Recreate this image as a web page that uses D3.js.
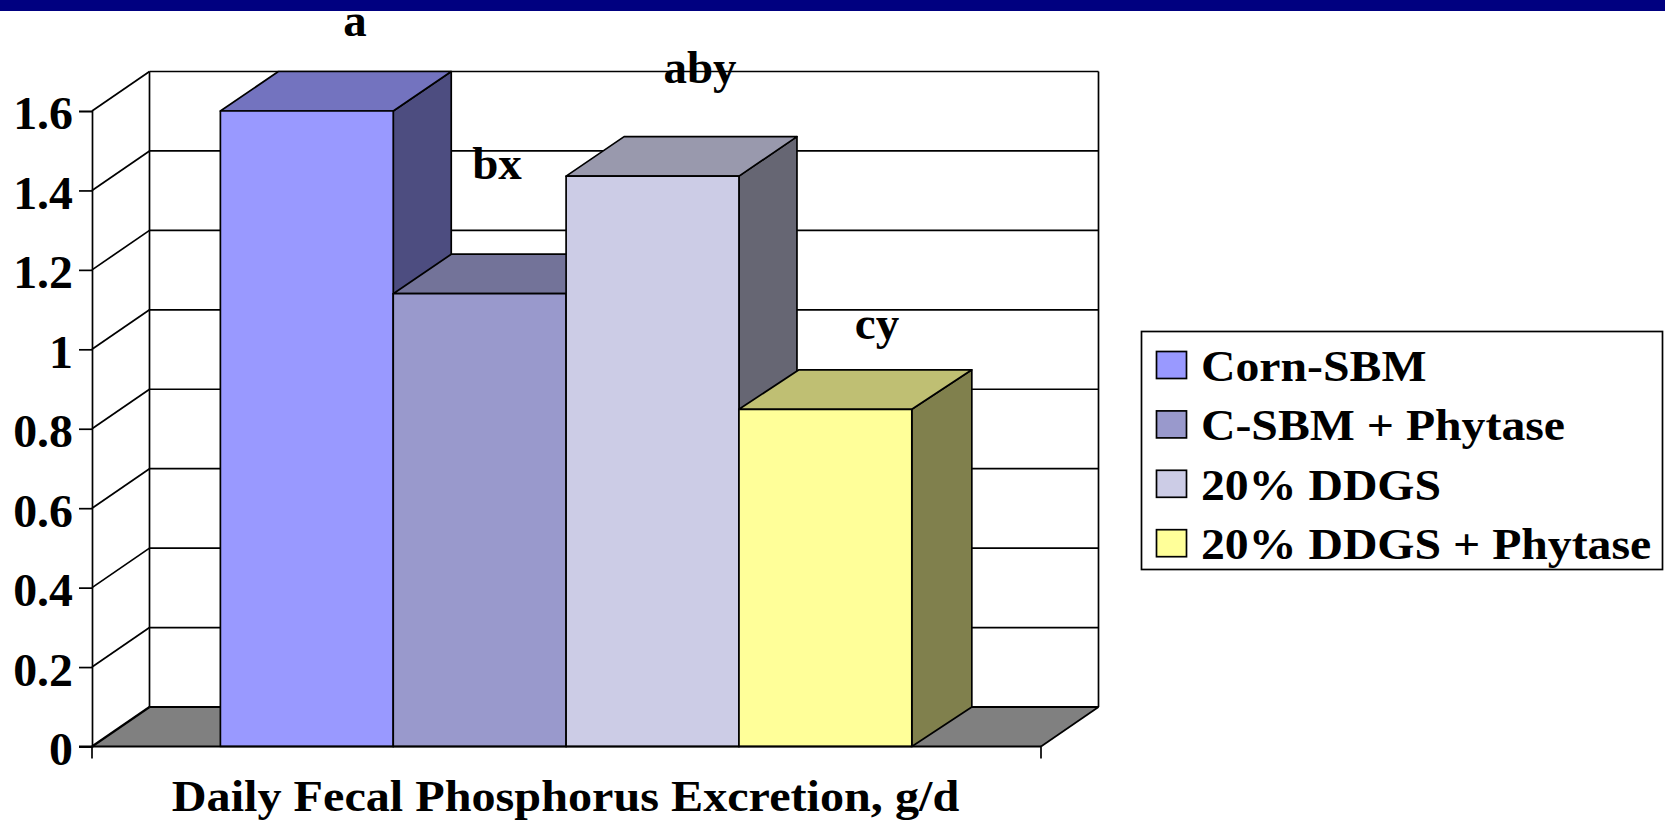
<!DOCTYPE html>
<html><head><meta charset="utf-8">
<script src="https://cdn.jsdelivr.net/npm/d3@7/dist/d3.min.js"></script>
<style>html,body{margin:0;padding:0;background:#fff;overflow:hidden}svg{display:block}text{font-family:"Liberation Serif",serif;font-weight:bold;fill:#000}</style>
</head><body><svg id="c" width="1665" height="820"></svg>
<script>
const seriesNames = ["Corn-SBM","C-SBM + Phytase","20% DDGS","20% DDGS + Phytase"];
const seriesValues = [1.6,1.14,1.436,0.849];
const seriesLetters = ["a","bx","aby","cy"];
const frontColors = ["#9999FF","#9999CC","#CCCCE6","#FFFF99"];
const topColors = ["#7373BF","#737399","#9999AD","#BFBF73"];
const sideColors = ["#4D4D80","#4D4D66","#666673","#80804D"];
const tickValues = [0,0.2,0.4,0.6,0.8,1,1.2,1.4,1.6];
const tickLabels = ["0","0.2","0.4","0.6","0.8","1","1.2","1.4","1.6"];
const xAxisTitle = "Daily Fecal Phosphorus Excretion, g/d";

const svg = d3.select("#c");
svg.append("rect").attr("width",1665).attr("height",11).attr("fill","#000080");

const left=92, right=1041, dx=57.5, dy=-39.5;
const barDX=[58,58,58,60], barDY=-39.5;
const y = d3.scaleLinear().domain([0,1.6]).range([746.5,111]);
const x = d3.scaleBand().domain(seriesNames).range([left-0.4,right-0.4]).paddingInner(0).paddingOuter(0.745);
const poly = pts => pts.map(p=>p.join(",")).join(" ");
const sw = 1.7;
const stretch = (sel,s) => sel.each(function(){
  const w=this.getComputedTextLength();
  d3.select(this).attr("textLength",w*s).attr("lengthAdjust","spacingAndGlyphs");
});

// floor
svg.append("polygon").attr("points",poly([[left,y(0)],[left+dx,y(0)+dy],[right+dx,y(0)+dy],[right,y(0)]]))
  .attr("fill","#808080").attr("stroke","none");
// gridlines on back wall and left wall
const grid = svg.append("g");
tickValues.forEach(v=>{
  grid.append("line").attr("x1",left+dx).attr("x2",right+dx).attr("y1",y(v)+dy).attr("y2",y(v)+dy)
    .attr("stroke","#000").attr("stroke-width",v===0?2.2:sw);
  grid.append("line").attr("x1",left).attr("x2",left+dx).attr("y1",y(v)).attr("y2",y(v)+dy)
    .attr("stroke","#000").attr("stroke-width",v===0?2.2:sw);
});
grid.append("line").attr("x1",left+dx).attr("x2",left+dx).attr("y1",y(1.6)+dy).attr("y2",y(0)+dy).attr("stroke","#000").attr("stroke-width",sw);
grid.append("line").attr("x1",right+dx).attr("x2",right+dx).attr("y1",y(1.6)+dy).attr("y2",y(0)+dy).attr("stroke","#000").attr("stroke-width",sw);
grid.append("line").attr("x1",right).attr("x2",right+dx).attr("y1",y(0)).attr("y2",y(0)+dy).attr("stroke","#000").attr("stroke-width",sw);

// bars
seriesNames.forEach((n,i)=>{
  const x0=x(n), x1=x0+x.bandwidth(), yt=y(seriesValues[i]), yb=y(0), ddx=barDX[i];
  const g=svg.append("g").attr("stroke","#000").attr("stroke-width",sw).attr("stroke-linejoin","round");
  g.append("polygon").attr("points",poly([[x1,yb],[x1+ddx,yb+barDY],[x1+ddx,yt+barDY],[x1,yt]])).attr("fill",sideColors[i]);
  g.append("polygon").attr("points",poly([[x0,yt],[x0+ddx,yt+barDY],[x1+ddx,yt+barDY],[x1,yt]])).attr("fill",topColors[i]);
  g.append("rect").attr("x",x0).attr("y",yt).attr("width",x1-x0).attr("height",yb-yt).attr("fill",frontColors[i]);
});

// y axis
const yAxis = d3.axisLeft(y).tickValues(tickValues).tickFormat((d,i)=>tickLabels[i]).tickSize(13).tickPadding(6);
const ya = svg.append("g").attr("transform",`translate(${left},0)`).call(yAxis);
ya.selectAll("path").attr("stroke","#000").attr("stroke-width",sw);
ya.selectAll("line").attr("stroke","#000").attr("stroke-width",sw);
ya.selectAll("text").attr("font-size",46).attr("font-family","Liberation Serif").attr("font-weight","bold").attr("fill","#000")
  .attr("dy","0.39em").call(stretch,1.04);

// x axis baseline & ends
svg.append("line").attr("x1",left-13).attr("x2",right).attr("y1",y(0)).attr("y2",y(0)).attr("stroke","#000").attr("stroke-width",2.2);
[left,right].forEach(px=>svg.append("line").attr("x1",px).attr("x2",px).attr("y1",y(0)).attr("y2",y(0)+12).attr("stroke","#000").attr("stroke-width",sw));
svg.append("text").attr("x",565.5).attr("y",811).attr("text-anchor","middle").attr("font-size",44).text(xAxisTitle).call(stretch,1.095);

// letters
const letterDX=[355,497,700,877], letterBase=[36,179,83,339];
seriesLetters.forEach((t,i)=>svg.append("text").attr("x",letterDX[i]).attr("y",letterBase[i]).attr("text-anchor","middle").attr("font-size",47).text(t));

// legend
svg.append("rect").attr("x",1141.5).attr("y",331.5).attr("width",521).attr("height",238).attr("fill","#fff").attr("stroke","#000").attr("stroke-width",sw);
seriesNames.forEach((n,i)=>{
  const ry=351.5+i*59.4;
  svg.append("rect").attr("x",1156.5).attr("y",ry).attr("width",30).attr("height",27).attr("fill",frontColors[i]).attr("stroke","#000").attr("stroke-width",sw);
  svg.append("text").attr("x",1201).attr("y",ry+29.5).attr("font-size",44).text(n).call(stretch,1.085);
});
</script></body></html>
